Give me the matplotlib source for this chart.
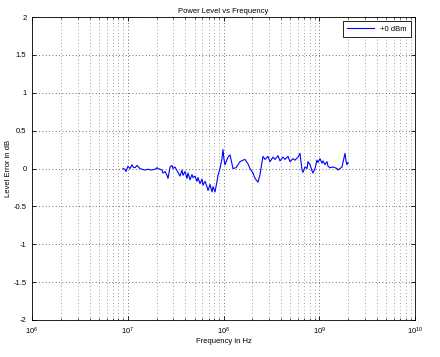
import matplotlib
matplotlib.use("Agg")
import matplotlib.pyplot as plt
from matplotlib.ticker import LogLocator, FixedLocator, NullFormatter

plt.rcParams['font.family'] = ['Liberation Sans', 'DejaVu Sans']
plt.rcParams['axes.unicode_minus'] = False
plt.rcParams['mathtext.fontset'] = 'custom'
plt.rcParams['mathtext.rm'] = 'Liberation Sans'
plt.rcParams['mathtext.it'] = 'Liberation Sans'

title = "Power Level vs Frequency"
xlabel = "Frequency in Hz"
ylabel = "Level Error in dB"
series_label = "+0 dBm"

freq_mhz = [8.92, 9.36, 9.59, 10.06, 10.56, 11.08, 11.34, 11.90, 12.49, 13.43,
            14.09, 15.14, 16.27, 17.49, 19.26, 20.21, 20.70, 21.72, 22.79, 23.35,
            24.49, 25.70, 26.33, 27.63, 28.98, 29.69, 31.15, 32.69, 35.13, 36.87,
            37.76, 39.62, 41.57, 42.58, 44.68, 46.88, 48.03, 50.39, 52.87, 54.17,
            56.84, 59.64, 61.09, 64.10, 67.26, 68.89, 72.28, 75.84, 77.69, 81.51,
            85.53, 87.61, 91.92, 96.45, 98.80, 101.2, 103.7, 111.4, 116.9, 125.7,
            135.1, 148.7, 159.8, 167.7, 180.3, 189.2, 203.3, 213.3, 229.3, 240.6,
            246.4, 258.6, 271.3, 291.5, 305.9, 328.8, 345.1, 370.9, 389.2, 418.2,
            438.8, 471.6, 494.9, 531.8, 558.1, 599.8, 629.5, 660.6, 676.7, 710.1,
            745.1, 763.2, 800.9, 840.3, 860.9, 903.1, 947.4, 970.3, 1018, 1068,
            1094, 1148, 1205, 1234, 1295, 1392, 1532, 1570, 1647, 1728,
            1770, 1857, 1903, 1949, 1997]

level_db = [0.00, -0.01, -0.04, 0.03, 0.00, 0.05, 0.02, 0.01, 0.04, 0.00,
            -0.01, -0.02, -0.01, -0.02, -0.01, 0.01, 0.00, -0.01, -0.02, -0.06,
            -0.04, -0.09, -0.13, 0.02, 0.04, 0.00, 0.02, -0.03, -0.10, -0.02,
            -0.09, -0.04, -0.13, -0.06, -0.15, -0.08, -0.12, -0.10, -0.17, -0.12,
            -0.20, -0.14, -0.22, -0.17, -0.24, -0.29, -0.21, -0.31, -0.24, -0.31,
            -0.17, -0.09, 0.00, 0.13, 0.25, 0.12, 0.05, 0.15, 0.18, 0.00,
            0.01, 0.09, 0.11, 0.12, 0.06, 0.00, -0.06, -0.13, -0.18, -0.08,
            0.00, 0.16, 0.12, 0.16, 0.09, 0.15, 0.12, 0.17, 0.10, 0.15,
            0.12, 0.16, 0.09, 0.13, 0.11, 0.15, 0.20, -0.02, -0.05, 0.02,
            0.00, 0.09, 0.05, -0.03, -0.06, 0.00, 0.11, 0.08, 0.13, 0.07,
            0.10, 0.05, 0.09, 0.03, 0.01, 0.02, 0.00, -0.02, 0.00, 0.02,
            0.08, 0.20, 0.10, 0.05, 0.08]

x_decades = [1e6, 1e7, 1e8, 1e9, 1e10]
x_ticklabels = ["$10^{6}$", "$10^{7}$", "$10^{8}$", "$10^{9}$", "$10^{10}$"]
y_ticks = [-2, -1.5, -1, -0.5, 0, 0.5, 1, 1.5, 2]
y_ticklabels = ["-2", "-1.5", "-1", "-0.5", "0", "0.5", "1", "1.5", "2"]

fig = plt.figure(figsize=(4.40, 3.57), dpi=100)
ax = fig.add_axes([32/440, 1 - 320/357, (415 - 32)/440, (320 - 17)/357])

freq_hz = [f * 1e6 for f in freq_mhz]
ax.plot(freq_hz, level_db, color='#0000ff', linewidth=0.8, label=series_label)

ax.set_xscale('log')
ax.set_xlim(x_decades[0], x_decades[-1])
ax.set_ylim(y_ticks[0], y_ticks[-1])
ax.xaxis.set_major_locator(FixedLocator(x_decades))
ax.set_xticklabels(x_ticklabels)
ax.xaxis.set_minor_locator(LogLocator(base=10, subs=[2, 3, 4, 5, 6, 7, 8, 9], numticks=20))
ax.xaxis.set_minor_formatter(NullFormatter())
ax.set_yticks(y_ticks)
ax.set_yticklabels(y_ticklabels)

ax.grid(True, which='major', linestyle=(0, (1, 3)), color='#404040', linewidth=0.6)
ax.grid(True, which='minor', axis='x', linestyle=(0, (1, 3)), color='#808080', linewidth=0.6)

ax.tick_params(which='both', direction='in', top=True, right=True, labelsize=5.5)
ax.tick_params(axis='x', which='major', pad=4)
ax.tick_params(axis='y', which='major', pad=4)
ax.tick_params(which='major', length=3, width=0.6)
ax.tick_params(which='minor', length=1.5, width=0.5)
for s in ax.spines.values():
    s.set_linewidth(0.6)

ax.set_title(title, fontsize=5.5, pad=3)
ax.set_xlabel(xlabel, fontsize=5.5, labelpad=1)
ax.set_ylabel(ylabel, fontsize=5.5, labelpad=1)

leg = ax.legend(loc='upper right', fontsize=5.5, fancybox=False, framealpha=1,
                edgecolor='black', borderpad=0.6, handlelength=3.5,
                borderaxespad=0.5)
leg.get_frame().set_linewidth(0.6)

fig.savefig("out.png", dpi=100)
